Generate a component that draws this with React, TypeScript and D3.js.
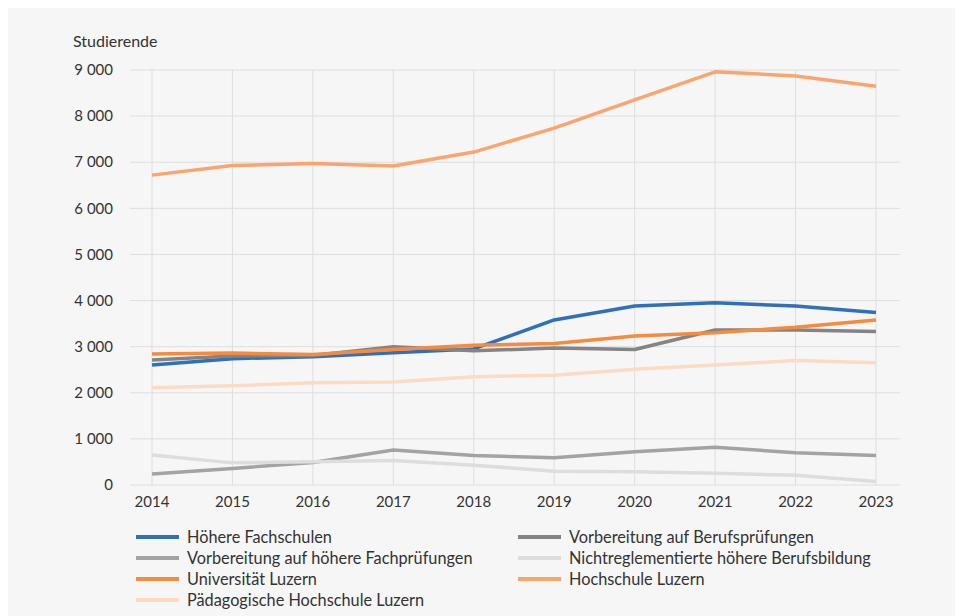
import React from "react";
import * as d3 from "d3";

const years = [2014, 2015, 2016, 2017, 2018, 2019, 2020, 2021, 2022, 2023];
const yTicks = [0, 1000, 2000, 3000, 4000, 5000, 6000, 7000, 8000, 9000];

const hoehereFachschulen = [2600, 2740, 2780, 2870, 2950, 3580, 3880, 3950, 3880, 3740];
const vorbBerufspruefungen = [2710, 2800, 2810, 3000, 2910, 2970, 2940, 3360, 3360, 3330];
const vorbHoehereFachpruefungen = [240, 360, 490, 760, 640, 590, 720, 820, 700, 640];
const nichtreglementiert = [650, 480, 505, 530, 430, 300, 290, 255, 210, 75];
const universitaetLuzern = [2840, 2860, 2830, 2940, 3030, 3070, 3230, 3300, 3420, 3580];
const hochschuleLuzern = [6720, 6930, 6970, 6920, 7220, 7740, 8350, 8960, 8870, 8650];
const paedagogischeHS = [2110, 2150, 2220, 2235, 2350, 2380, 2510, 2600, 2700, 2650];

const seriesNames = [
  "Höhere Fachschulen",
  "Vorbereitung auf Berufsprüfungen",
  "Vorbereitung auf höhere Fachprüfungen",
  "Nichtreglementierte höhere Berufsbildung",
  "Universität Luzern",
  "Hochschule Luzern",
  "Pädagogische Hochschule Luzern",
];
const seriesValues = [
  hoehereFachschulen,
  vorbBerufspruefungen,
  vorbHoehereFachpruefungen,
  nichtreglementiert,
  universitaetLuzern,
  hochschuleLuzern,
  paedagogischeHS,
];
const seriesColors = ["#3070b9", "#848484", "#a3a3a3", "#dddddd", "#f68a3f", "#f9a56d", "#fddbc3"];

const W = 955;
const H = 608;
const FONT = "Lato, sans-serif";

export default function App() {
  const x = d3.scaleLinear().domain([2014, 2023]).range([144, 868]);
  const y = d3.scaleLinear().domain([0, 9000]).range([477, 62]);
  const gridLeft = 122;
  const gridRight = 892;
  const fmt = (v: number) => d3.format(",")(v).replace(/,/g, " ");
  const line = d3
    .line<number>()
    .x((_, i) => x(years[i]))
    .y((v) => y(v));

  const legendRowY = (r: number) => 529 + r * 21;
  const colX = [128, 510];

  return (
    <svg width={W} height={H} style={{ display: "block", fontFamily: FONT }}>
      <rect x={0} y={0} width={W} height={H} fill="#f6f6f6" />
      <text x={65} y={39} fontSize={16} fill="#333">Studierende</text>
      {yTicks.map((t) => (
        <g key={t}>
          <line x1={gridLeft} x2={gridRight} y1={y(t)} y2={y(t)} stroke="#dedede" strokeWidth={1} />
          <text x={105} y={y(t)} dy="0.35em" textAnchor="end" fontSize={15} fill="#333">
            {fmt(t)}
          </text>
        </g>
      ))}
      {years.map((yr) => (
        <g key={yr}>
          <line x1={x(yr)} x2={x(yr)} y1={y(9000)} y2={y(0)} stroke="#dedede" strokeWidth={1} />
          <text x={x(yr)} y={494} dy="0.35em" textAnchor="middle" fontSize={15} fill="#333">
            {yr}
          </text>
        </g>
      ))}
      {seriesValues.map((vals, i) => (
        <path
          key={seriesNames[i]}
          d={line(vals) || ""}
          fill="none"
          stroke={seriesColors[i]}
          strokeWidth={3.5}
          strokeLinejoin="round"
        />
      ))}
      {seriesNames.map((name, i) => {
        const cx = colX[i % 2];
        const cy = legendRowY(Math.floor(i / 2));
        return (
          <g key={name}>
            <line x1={cx} x2={cx + 43} y1={cy} y2={cy} stroke={seriesColors[i]} strokeWidth={4} />
            <text x={cx + 51} y={cy} dy="0.35em" fontSize={16.3} fill="#333">
              {name}
            </text>
          </g>
        );
      })}
    </svg>
  );
}
